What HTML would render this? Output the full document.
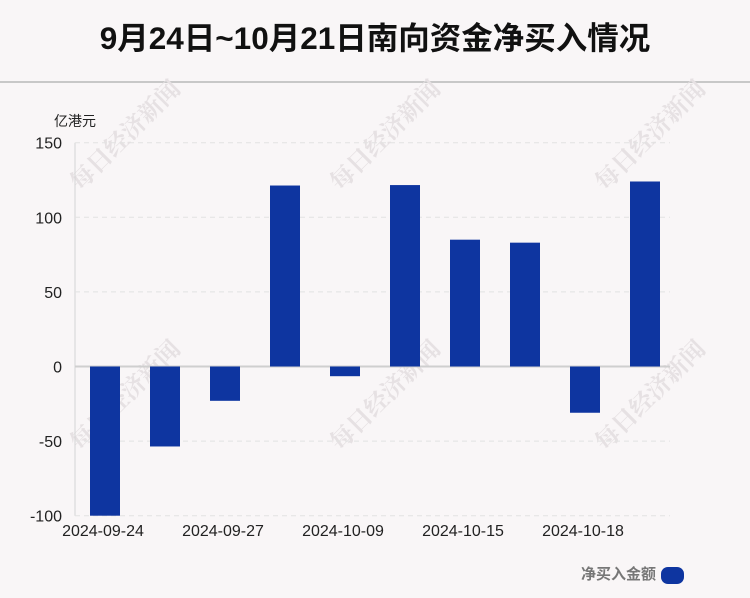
<!DOCTYPE html>
<html><head><meta charset="utf-8">
<style>
html,body{margin:0;padding:0;background:#f9f6f7;}
body{width:750px;height:593px;overflow:hidden;font-family:"Liberation Sans","Noto Sans CJK SC",sans-serif;}
</style></head>
<body>
<svg width="750" height="593" viewBox="0 0 750 593" id="chart" style="font-family:'Liberation Sans','Noto Sans CJK SC',sans-serif">
<rect x="0" y="0" width="750" height="593" fill="#f9f6f7"/>
<text x="375" y="49" text-anchor="middle" font-size="31.5" font-weight="bold" fill="#111">9月24日~10月21日南向资金净买入情况</text>
<line x1="0" y1="82" x2="750" y2="82" stroke="#c8c8c8" stroke-width="2"/>
<g id="wm" fill="#e6e1e3" font-size="24" font-weight="bold" font-family="'Noto Serif CJK SC',serif">
<text transform="translate(80,192) rotate(-45)">每日经济新闻</text>
<text transform="translate(340,192) rotate(-45)">每日经济新闻</text>
<text transform="translate(605,192) rotate(-45)">每日经济新闻</text>
<text transform="translate(80,452) rotate(-45)">每日经济新闻</text>
<text transform="translate(340,452) rotate(-45)">每日经济新闻</text>
<text transform="translate(605,452) rotate(-45)">每日经济新闻</text>
</g>
<text x="54" y="126" font-size="14" fill="#222">亿港元</text>
<g id="grid"></g>
<g id="bars"></g>
<g id="xlabels"></g>
<text x="656" y="579" text-anchor="end" font-size="15" font-weight="bold" fill="#777">净买入金额</text>
<rect x="661" y="567" width="23" height="17" rx="7" fill="#0e35a0"/>
</svg>
<script>
const categories=["2024-09-24","2024-09-26","2024-09-27","2024-09-30","2024-10-09","2024-10-11","2024-10-15","2024-10-16","2024-10-18","2024-10-21"];
const values=[-100,-53.6,-23,121.3,-6.5,121.6,85,83,-31,124];
const yTicks=[150,100,50,0,-50,-100];
const xLabelIdx=[0,2,4,6,8];
const NS="http://www.w3.org/2000/svg";
const plotL=75,plotR=675,yTop=142.7,yBot=515.7,yMax=150,yMin=-100;
function y(v){return yTop+(yMax-v)/(yMax-yMin)*(yBot-yTop);}
const step=(plotR-plotL)/categories.length;
function xc(i){return plotL+step*(i+0.5);}
const grid=document.getElementById('grid');
const ax=document.createElementNS(NS,'line');
ax.setAttribute('x1',plotL);ax.setAttribute('x2',plotL);ax.setAttribute('y1',yTop);ax.setAttribute('y2',yBot);
ax.setAttribute('stroke','#d4d4d4');


grid.appendChild(ax);
yTicks.forEach(t=>{
 const l=document.createElementNS(NS,'line');
 l.setAttribute('x1',plotL);l.setAttribute('x2',670);l.setAttribute('y1',y(t));l.setAttribute('y2',y(t));
 if(t===0){l.setAttribute('stroke','#cfcfcf');l.setAttribute('stroke-width','2');}
 else{l.setAttribute('stroke','#e2e2e2');l.setAttribute('stroke-dasharray','5,4');}
 
 
 grid.appendChild(l);
 const tx=document.createElementNS(NS,'text');
 tx.setAttribute('x',62);tx.setAttribute('y',y(t)+6);tx.setAttribute('text-anchor','end');
 tx.setAttribute('font-size','16');tx.setAttribute('fill','#222');tx.textContent=t;
 
 
 grid.appendChild(tx);
});
const bars=document.getElementById('bars');
values.forEach((v,i)=>{
 const r=document.createElementNS(NS,'rect');
 const y0=y(0),y1=y(v);
 r.setAttribute('x',xc(i)-15);r.setAttribute('width',30);
 r.setAttribute('y',Math.min(y0,y1));r.setAttribute('height',Math.abs(y1-y0));
 r.setAttribute('fill','#0e35a0');
 
 
 bars.appendChild(r);
});
const xl=document.getElementById('xlabels');
xLabelIdx.forEach(i=>{
 const tx=document.createElementNS(NS,'text');
 tx.setAttribute('x',xc(i)-2);tx.setAttribute('y',536);tx.setAttribute('text-anchor','middle');
 tx.setAttribute('font-size','16');tx.setAttribute('fill','#222');tx.textContent=categories[i];
 
 
 xl.appendChild(tx);
});
</script>
</body></html>
